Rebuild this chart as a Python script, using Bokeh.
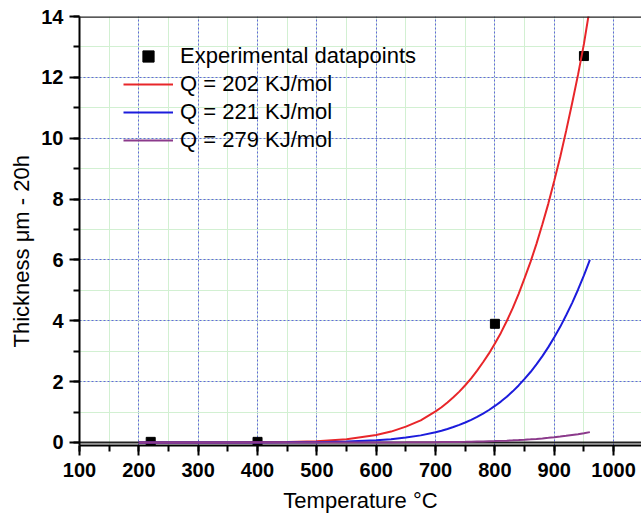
from bokeh.plotting import figure
from bokeh.models import (SingleIntervalTicker, Span, Legend, LegendItem, Range1d, Title)
from bokeh.embed import file_html
from bokeh.resources import INLINE

# ---- data ----
temps = [200, 250, 300, 350, 400, 450, 500, 550,
         600, 625, 650, 675,
         700, 710, 720, 730, 740, 750, 760, 770, 780, 790, 800, 810, 820, 830,
         840, 850, 860, 870, 880, 890, 900, 910, 920, 930, 940, 950, 960]
q202 = [0.0, 0.0, 0.0002, 0.0009, 0.004, 0.014, 0.041, 0.105,
        0.245, 0.357, 0.52, 0.728,
        1.02, 1.157, 1.314, 1.484, 1.670, 1.88, 2.106, 2.361, 2.635, 2.927, 3.25,
        3.601, 3.991, 4.415, 4.884, 5.40, 5.936, 6.527, 7.17, 7.85, 8.60, 9.38,
        10.24, 11.14, 12.08, 13.1, 14.3]
q221 = [0.0, 0.0, 0.0, 0.0002, 0.0008, 0.003, 0.0098, 0.028,
        0.070, 0.106, 0.161, 0.233,
        0.337, 0.386, 0.443, 0.506, 0.576, 0.656, 0.742, 0.841, 0.949, 1.067, 1.20,
        1.343, 1.504, 1.680, 1.874, 2.09, 2.315, 2.565, 2.837, 3.133, 3.46, 3.80,
        4.18, 4.58, 5.02, 5.49, 6.0]
q279 = [0.0, 0.0, 0.0, 0.0, 0.0, 0.0001, 0.0002, 0.0004,
        0.0012, 0.002, 0.0035, 0.006,
        0.009, 0.011, 0.013, 0.015, 0.018, 0.021, 0.025, 0.029, 0.033, 0.039, 0.045,
        0.052, 0.060, 0.069, 0.079, 0.090, 0.103, 0.117, 0.133, 0.151, 0.17, 0.193,
        0.217, 0.244, 0.27, 0.30, 0.34]
exp_t = [220, 400, 800, 950]
exp_y = [0.02, 0.02, 3.9, 12.7]

series_labels = ["Experimental datapoints", "Q = 202 KJ/mol", "Q = 221 KJ/mol", "Q = 279 KJ/mol"]
x_title = "Temperature °C"
y_title = "Thickness μm - 20h"

FONT = "Liberation Sans"

p = figure(width=641, height=521, output_backend="svg", toolbar_location=None,
           x_range=Range1d(100, 1047), y_range=Range1d(-0.1, 14),
           min_border_left=79, min_border_right=0, min_border_top=16, min_border_bottom=76)
p.outline_line_color = None
p.background_fill_color = "white"
p.border_fill_color = "white"

xt = SingleIntervalTicker(interval=100, num_minor_ticks=2)
yt = SingleIntervalTicker(interval=2, num_minor_ticks=2)
p.xaxis.ticker = xt
p.yaxis.ticker = yt
p.xgrid.ticker = xt
p.ygrid.ticker = yt

for g in (p.xgrid, p.ygrid):
    g.grid_line_color = "#5050dd"
    g.grid_line_alpha = 0.85
    g.grid_line_dash = "2 2"
    g.grid_line_width = 1
    g.minor_grid_line_color = "#d2f0d2"
    g.minor_grid_line_width = 1

for ax in (p.xaxis, p.yaxis):
    ax.axis_line_color = "black"
    ax.axis_line_width = 2
    ax.major_tick_line_color = "black"
    ax.minor_tick_line_color = "black"
    ax.major_tick_line_width = 2
    ax.minor_tick_line_width = 2
    ax.major_tick_out = 10
    ax.major_tick_in = 0
    ax.minor_tick_out = 6
    ax.minor_tick_in = 0
    ax.major_label_text_font = FONT
    ax.major_label_text_font_style = "bold"
    ax.major_label_text_font_size = "20px"
    ax.major_label_text_color = "black"
    ax.axis_label_text_font = FONT
    ax.axis_label_text_font_style = "normal"
    ax.axis_label_text_font_size = "22px"
    ax.axis_label_text_color = "black"

p.yaxis.major_label_standoff = 6
p.xaxis.major_label_standoff = 7
p.xaxis.axis_label = x_title
p.xaxis.axis_label_standoff = 8

p.add_layout(Title(text=y_title, align="left", offset=98, standoff=9,
                   text_font=FONT, text_font_size="22px", text_font_style="normal",
                   text_color="black"), "left")

p.add_layout(Span(location=0, dimension="width", line_color="#222222", line_width=2, level="underlay"))
p.add_layout(Span(location=14, dimension="width", line_color="#222222", line_width=2.5))

r_exp = p.scatter(exp_t, exp_y, marker="square", size=9, color="black")
r1 = p.line(temps, q202, line_color="#e8262a", line_width=2)
r2 = p.line(temps, q221, line_color="#1c1cdc", line_width=2)
r3 = p.line(temps, q279, line_color="#8b3a8b", line_width=2)

legend = Legend(items=[LegendItem(label=series_labels[0], renderers=[r_exp]),
                       LegendItem(label=series_labels[1], renderers=[r1]),
                       LegendItem(label=series_labels[2], renderers=[r2]),
                       LegendItem(label=series_labels[3], renderers=[r3])],
                location=(44, 291), margin=0, padding=0, spacing=0,
                glyph_width=50, glyph_height=28, label_height=28, label_standoff=7,
                label_text_font=FONT, label_text_font_size="22px", label_text_color="black",
                background_fill_alpha=0, border_line_color=None)
p.add_layout(legend)

open("out.html", "w").write(file_html(p, INLINE))
